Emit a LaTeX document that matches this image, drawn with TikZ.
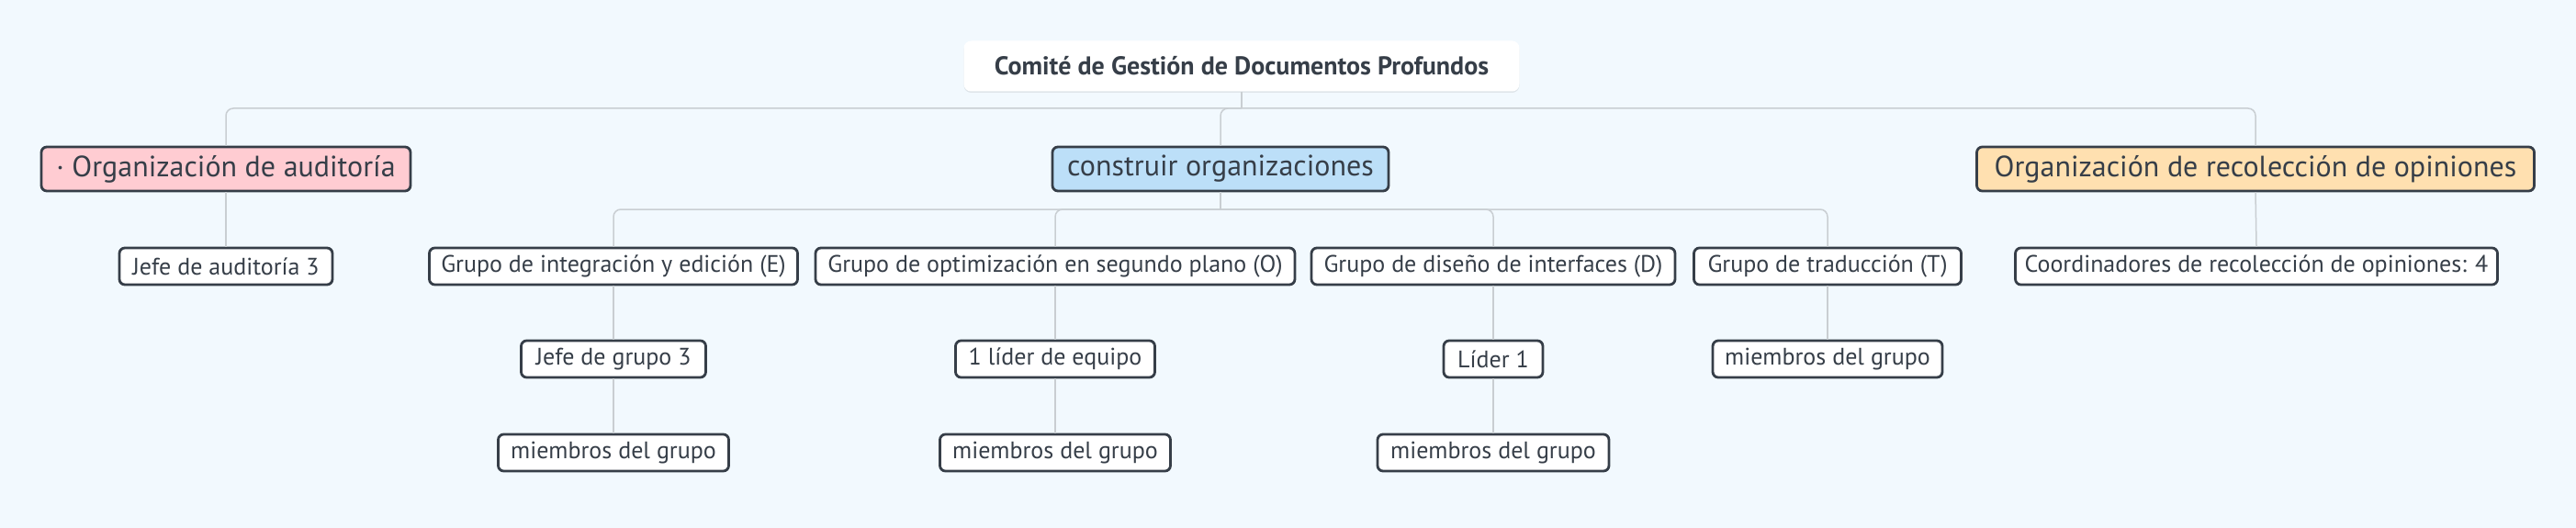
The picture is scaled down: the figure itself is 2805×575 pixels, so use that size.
\documentclass[tikz,border=0pt]{standalone}
\usepackage{fontspec}
\setmainfont{PT Sans}
\usetikzlibrary{shadows}
\definecolor{bg}{HTML}{F2F9FE}
\definecolor{ink}{HTML}{363E48}
\definecolor{conncol}{HTML}{C9CED2}
\definecolor{pinkf}{HTML}{FFCCD2}
\definecolor{bluef}{HTML}{BCDFF8}
\definecolor{orangef}{HTML}{FFE0B0}
\begin{document}
\begin{tikzpicture}[x=1pt,y=-1pt,
  box/.style={draw=ink, line width=2.8pt, rounded corners=6pt, fill=white, text=ink,
    font=\fontsize{26}{30}\selectfont, minimum height=40pt, inner sep=0pt},
  lvlone/.style={box, minimum height=48pt, font=\fontsize{32}{37}\selectfont},
  rootbox/.style={fill=white, rounded corners=8pt, text=ink, inner sep=0pt,
    minimum height=55pt, font=\bfseries\fontsize{28}{32}\selectfont,
    drop shadow={shadow xshift=0pt, shadow yshift=-1.5pt, opacity=0.08, fill=black}},
  link/.style={draw=conncol, line width=1.5pt, rounded corners=8pt}]
\path[fill=bg] (0,0) rectangle (2805,575);

% root
\node[rootbox, minimum width=605pt] (root) at (1352,72) {Comité de Gestión de Documentos Profundos};

% level 1
\node[lvlone, fill=pinkf, minimum width=402pt] (aud) at (246,184) {· Organización de auditoría};
\node[lvlone, fill=bluef, minimum width=366pt] (con) at (1329,184) {construir organizaciones};
\node[lvlone, fill=orangef, minimum width=607pt] (rec) at (2456,184) {Organización de recolección de opiniones};

% level 2
\node[box, minimum width=232pt] (jaud) at (246,290) {Jefe de auditoría 3};
\node[box, minimum width=401pt] (ge) at (668,290) {Grupo de integración y edición (E)};
\node[box, minimum width=522pt] (go) at (1149,290) {Grupo de optimización en segundo plano (O)};
\node[box, minimum width=396pt] (gd) at (1626,290) {Grupo de diseño de interfaces (D)};
\node[box, minimum width=291pt] (gt) at (1990,290) {Grupo de traducción (T)};
\node[box, minimum width=525pt] (coord) at (2457,290) {Coordinadores de recolección de opiniones: 4};

% level 3
\node[box, minimum width=201pt] (je) at (668,391) {Jefe de grupo 3};
\node[box, minimum width=217pt] (lo) at (1149,391) {1 líder de equipo};
\node[box, minimum width=108pt] (ld) at (1626,391) {Líder 1};
\node[box, minimum width=250pt] (mt) at (1990,391) {miembros del grupo};

% level 4
\node[box, minimum width=251pt] (me) at (668,493) {miembros del grupo};
\node[box, minimum width=251pt] (mo) at (1149,493) {miembros del grupo};
\node[box, minimum width=252pt] (md) at (1626,493) {miembros del grupo};

% junctions
\coordinate (rj) at (1352,118);
\coordinate (cj) at (1329,228);

% connectors
\draw[link] (root.south) -- (rj);
\draw[link] (rj) -| (aud.north);
\draw[link] (rj) -| (con.north);
\draw[link] (rj) -| (rec.north);

\draw[link] (aud.south) -- (jaud.north);
\draw[link] (rec.south) -- (coord.north);

\draw[link] (con.south) -- (cj);
\draw[link] (cj) -| (ge.north);
\draw[link] (cj) -| (go.north);
\draw[link] (cj) -| (gd.north);
\draw[link] (cj) -| (gt.north);

\draw[link] (ge.south) -- (je.north);
\draw[link] (je.south) -- (me.north);
\draw[link] (go.south) -- (lo.north);
\draw[link] (lo.south) -- (mo.north);
\draw[link] (gd.south) -- (ld.north);
\draw[link] (ld.south) -- (md.north);
\draw[link] (gt.south) -- (mt.north);
\end{tikzpicture}
\end{document}
